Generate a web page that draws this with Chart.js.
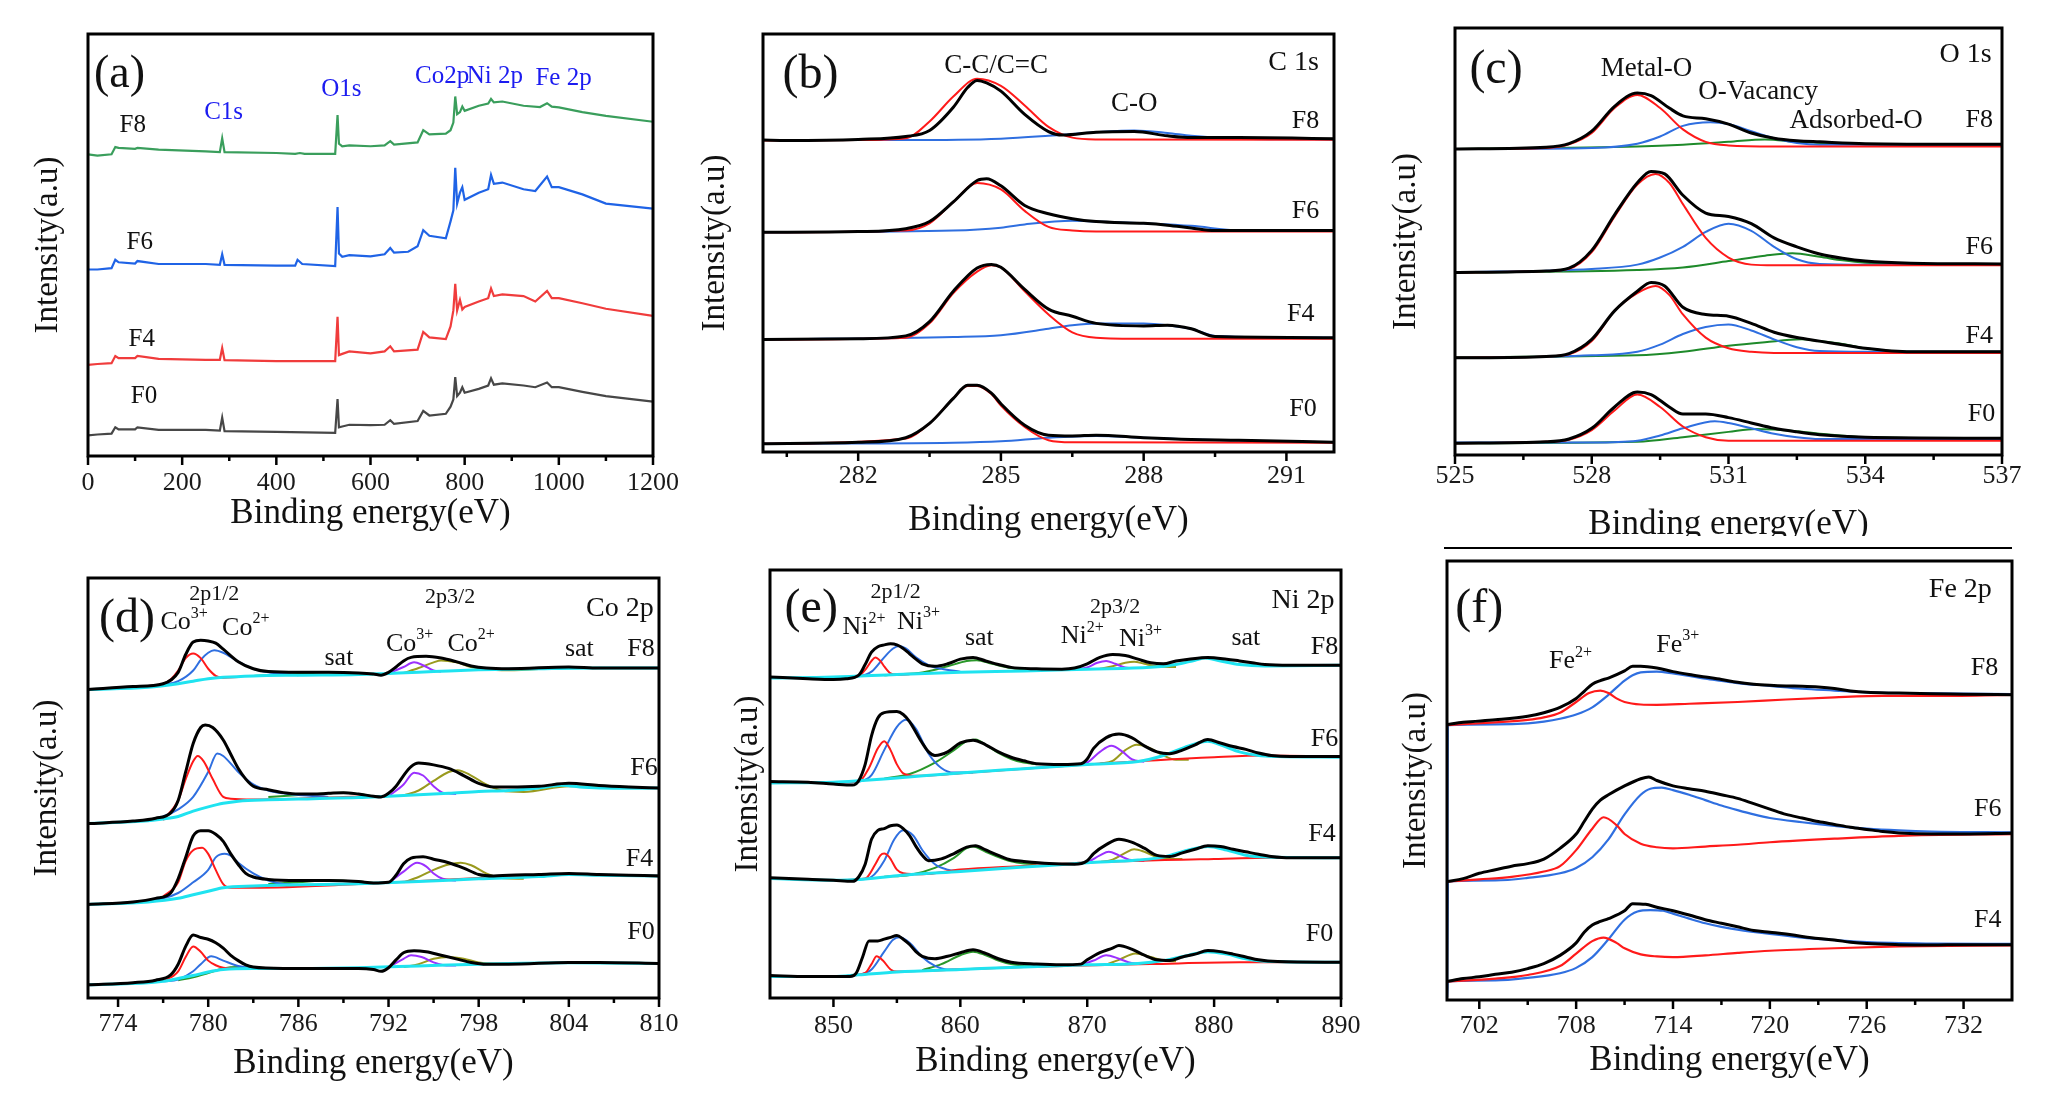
<!DOCTYPE html>
<html>
<head>
<meta charset="utf-8">
<script src="https://cdn.jsdelivr.net/npm/chart.js@4.4.1/dist/chart.umd.min.js"></script>
<style>
  body { margin: 0; background: #fff; width: 2050px; height: 1110px; position: relative; overflow: hidden; }
  canvas { position: absolute; }
</style>
</head>
<body>
<script>
// ---- (a) survey, intensity in % of frame height ----
const aF8 = [[0,71.5],[20,71.2],[50,71.5],[58,73.2],[65,73.0],[100,72.8],[105,73.0],[150,72.6],[250,72.2],[280,72.0],[285,75.3],[290,72.0],[400,71.8],[440,71.6],[450,71.8],[460,71.6],[525,71.6],[530,80.8],[533,74.0],[540,73.4],[555,73.6],[600,73.4],[630,73.6],[642,74.6],[650,73.8],[700,74.3],[712,77.2],[725,76.2],[760,76.4],[770,77.2],[776,79],[780,85.2],[784,81],[790,81.5],[795,82.8],[800,81.8],[830,83.0],[850,83.5],[856,84.6],[862,83.8],[880,84.0],[925,83.0],[960,82.7],[975,83.6],[985,82.8],[1000,82.6],[1050,81.5],[1100,80.6],[1200,79.2]];
const aF6 = [[0,44.2],[20,44.2],[50,44.5],[58,46.5],[65,45.9],[100,45.6],[105,46.2],[150,45.5],[250,45.5],[280,45.3],[285,47.8],[290,45.3],[400,45.1],[440,45.1],[445,46.5],[455,45.5],[525,45.0],[530,59.0],[533,48.0],[540,47.2],[555,47.6],[600,47.3],[630,47.8],[642,49.3],[650,48.2],[680,48.4],[700,49.7],[712,53.5],[725,52.2],[760,51.6],[770,55.6],[776,58.2],[780,68.3],[784,59.8],[790,62.4],[795,63.7],[800,60.7],[830,62.4],[850,63.2],[856,66.6],[862,64.5],[880,64.8],[925,63.2],[950,62.8],[975,66.2],[985,63.7],[1000,63.7],[1050,62.0],[1100,59.8],[1200,58.6]];
const aF4 = [[0,21.6],[20,21.8],[50,22.0],[58,23.7],[65,23.2],[100,23.2],[105,23.7],[150,23.0],[250,22.8],[280,22.8],[285,25.6],[290,22.7],[400,22.5],[525,22.5],[530,33.0],[533,23.9],[540,24.2],[555,24.8],[600,24.3],[630,24.8],[642,26.0],[650,24.8],[700,25.2],[712,29.4],[725,28.1],[760,27.7],[770,30.7],[776,34.5],[780,40.8],[784,34.5],[790,37.0],[795,34.7],[800,35.3],[830,36.6],[850,37.4],[856,39.7],[862,37.9],[880,38.3],[925,37.9],[950,36.6],[975,39.1],[985,37.4],[1000,37.4],[1050,36.2],[1100,34.9],[1200,33.2]];
const aF0 = [[0,4.9],[20,5.1],[50,5.3],[58,6.8],[65,6.3],[100,6.3],[105,6.8],[150,6.2],[250,6.2],[280,6.0],[285,9.1],[290,5.9],[400,5.7],[525,5.5],[530,13.5],[533,6.8],[540,7.0],[555,7.4],[600,7.3],[630,7.4],[642,8.5],[650,7.6],[700,8.3],[712,10.7],[725,9.6],[760,10.0],[770,11.7],[776,13.4],[780,18.7],[784,14.2],[790,15.0],[795,16.3],[800,15.0],[830,15.9],[850,16.7],[856,18.4],[862,16.9],[880,17.2],[925,16.7],[950,16.3],[975,17.4],[985,16.3],[1000,16.3],[1050,15.2],[1100,14.2],[1200,12.9]];

// ---- (b) C 1s ----
const bF8k = [[280,873],[280.5,872],[282,875],[283,883],[283.5,900],[284,965],[284.3,1020],[284.5,1040],[284.7,1033],[285,1010],[285.5,945],[286,897],[286.3,887],[287,895],[287.8,897],[288.5,885],[289,880],[290,880],[292,877]];
const bF8r = [[280,872],[282,873],[283,878],[283.5,925],[284,995],[284.5,1045],[285,1025],[285.5,970],[286,910],[286.5,880],[287,875],[292,874]];
const bF8b = [[280,873],[283,873],[285,877],[286,885],[287,895],[287.8,900],[288.5,893],[289,885],[290,877],[292,875]];
const bF6k = [[280,615],[282,617],[283,625],[283.5,645],[284,700],[284.5,760],[284.7,765],[285,745],[285.5,690],[286,667],[286.5,653],[287,645],[288,640],[288.5,635],[289,627],[289.5,620],[292,620]];
const bF6r = [[280,615],[283,620],[283.5,640],[284,700],[284.5,753],[285,735],[285.5,675],[286,630],[286.5,620],[287,617],[292,617]];
const bF6b = [[280,615],[284,620],[285,628],[285.5,637],[286.5,647],[287,645],[288,640],[289,633],[290,620],[292,619]];
const bF4k = [[280,315],[282,317],[283,325],[283.5,365],[284,450],[284.5,515],[284.8,525],[285,517],[285.5,455],[286,400],[286.5,380],[287,360],[288,353],[288.5,355],[289,345],[289.5,323],[292,320]];
const bF4r = [[280,315],[283,320],[283.5,360],[284,445],[284.5,505],[284.8,523],[285,517],[285.5,450],[286,385],[286.5,335],[287,320],[288,317],[292,317]];
const bF4b = [[280,315],[284,322],[285,327],[286,345],[286.5,355],[287,360],[288,360],[288.5,355],[289,345],[289.5,325],[292,320]];
const bF0k = [[280,23],[282,27],[283,40],[283.5,80],[284,150],[284.3,187],[284.5,187],[284.8,165],[285,135],[285.5,75],[286,47],[286.5,45],[287,47],[288,40],[289,35],[290,33],[292,27]];
const bF0r = [[280,23],[283,38],[283.5,80],[284,150],[284.3,185],[284.5,185],[284.8,162],[285,130],[285.5,70],[286,33],[286.5,27],[292,26]];
const bF0b = [[280,23],[284,26],[285,30],[286,40],[287,45],[288,40],[289,35],[292,27]];

// ---- (c) O 1s ----
const cF8k = [[525,860],[527,865],[527.5,875],[528,910],[528.5,980],[529,1017],[529.3,1010],[529.7,975],[530,953],[530.5,945],[531,930],[531.5,905],[532,890],[532.5,883],[533,880],[534,875],[537,873]];
const cF8r = [[525,860],[527,863],[527.5,873],[528,905],[528.5,975],[529,1012],[529.5,975],[530,915],[530.5,880],[531,870],[532,867],[537,867]];
const cF8b = [[525,860],[528,863],[529,875],[529.5,895],[530,925],[530.6,935],[531,930],[531.5,910],[532,890],[532.5,877],[533,872],[537,872]];
const cF8g = [[525,860],[529,867],[530,872],[531,880],[531.8,887],[532.5,880],[533,877],[534,873],[537,872]];
const cF6k = [[525,513],[527,517],[527.5,525],[528,575],[528.5,675],[529,765],[529.3,797],[529.6,790],[530,730],[530.5,680],[531,670],[531.5,650],[532,610],[532.5,585],[533,565],[533.5,553],[534,545],[535,539],[537,537]];
const cF6r = [[525,513],[527,517],[527.5,523],[528,570],[528.5,670],[529,760],[529.4,790],[529.7,765],[530,705],[530.5,610],[531,555],[531.5,535],[532,533],[537,533]];
const cF6b = [[525,513],[528,523],[529,535],[529.5,555],[530,585],[530.5,627],[531,650],[531.5,630],[532,585],[532.5,550],[533,537],[534,535],[537,535]];
const cF6g = [[525,513],[529,520],[530,527],[531,545],[531.8,560],[532.4,567],[533,557],[533.5,547],[534,540],[535,535],[537,535]];
const cF4k = [[525,273],[527,277],[527.5,285],[528,325],[528.5,405],[529,460],[529.3,485],[529.6,475],[530,415],[530.5,395],[531,390],[531.5,370],[532,345],[532.5,330],[533,320],[533.5,310],[534,300],[535,290],[537,290]];
const cF4r = [[525,273],[527,277],[527.5,283],[528,320],[528.5,405],[529,455],[529.4,475],[529.7,450],[530,395],[530.5,330],[531,300],[531.5,290],[532,287],[537,287]];
const cF4b = [[525,273],[528,280],[529,290],[529.5,310],[530,340],[530.5,360],[531,367],[531.5,350],[532,325],[532.5,303],[533,292],[534,290],[537,290]];
const cF4g = [[525,275],[529,280],[530,290],[531,307],[531.8,317],[532.6,325],[533,320],[533.5,312],[534,300],[535,290],[537,290]];
const cF0k = [[525,33],[527,37],[527.5,45],[528,75],[528.5,135],[529,177],[529.3,170],[529.7,135],[530,115],[530.5,115],[531,105],[531.5,90],[532,75],[532.5,65],[533,57],[534,50],[537,47]];
const cF0r = [[525,33],[527,37],[527.5,43],[528,70],[528.5,125],[529,170],[529.5,135],[530,80],[530.5,50],[531,40],[537,40]];
const cF0b = [[525,35],[528,35],[529,40],[529.5,55],[530,75],[530.7,95],[531,90],[531.5,75],[532,60],[532.5,50],[533,45],[537,45]];
const cF0g = [[525,33],[529,37],[530,50],[531,65],[531.6,73],[532.5,67],[533,60],[534,50],[537,47]];

// ---- (d) Co 2p ----
const dF8k = [[772,867],[775,875],[777,883],[778,915],[778.5,965],[779,1000],[779.5,1005],[780,1003],[780.5,997],[781,980],[782,945],[783,925],[784,917],[786,915],[788,915],[790,913],[791,910],[791.5,907],[792,915],[792.5,930],[793,947],[793.5,957],[794.5,960],[795.5,955],[796.5,945],[797.5,933],[798.5,927],[800,925],[804,930],[806,927],[810,927]];
const dF8r = [[772,867],[777,883],[777.5,895],[778,920],[778.5,955],[779,968],[779.5,955],[780,925],[780.5,905],[781,900],[782,902]];
const dF8b = [[776,875],[777,880],[778,890],[779,920],[779.5,950],[780,970],[780.4,977],[781,970],[782,945],[783,925],[784,915],[785,910],[786,907]];
const dF8g = [[783,905],[786,910],[788,915],[790,912],[791,909]];
const dF8c = [[772,867],[776,873],[778,883],[779,890],[780,897],[781,901],[783,905],[786,907],[790,909],[792,912],[794,915],[796,919],[798,922],[802,925],[806,927],[810,927]];
const dF8p = [[792,912],[793,930],[793.7,943],[794.3,935],[795,920],[795.5,917]];
const dF8o = [[793,913],[794,927],[795,943],[795.5,948],[796.5,943],[797.5,930],[798.5,923],[800,921],[804,928],[808,927]];
const dF6k = [[772,490],[775,497],[776.5,505],[777.5,520],[778,555],[778.5,635],[779,715],[779.5,760],[779.8,767],[780.3,760],[781,725],[781.5,685],[782,645],[782.5,615],[783,595],[784,585],[785,577],[786,573],[787,573],[788,575],[789,577],[790,573],[791,567],[791.5,565],[792,575],[792.5,595],[793,625],[793.5,650],[794,660],[795,655],[796,645],[797,625],[798,603],[799,593],[800,593],[802,595],[804,603],[806,597],[808,593],[810,590]];
const dF6r = [[777,500],[778,555],[778.5,615],[779,665],[779.3,680],[779.7,665],[780.3,615],[781,565],[781.5,560],[783,558],[786,560],[789,565],[791,567]];
const dF6b = [[776,500],[777,510],[778,530],[779,565],[780,635],[780.6,687],[781,680],[782,635],[783,600],[784,583],[785,575],[786,570],[788,565]];
const dF6g = [[784,565],[786,570],[788,575],[789,577],[790,573],[791,567]];
const dF6c = [[772,490],[776,498],[777,503],[778,510],[779,525],[780,537],[781,547],[782,553],[784,557],[787,560],[790,563],[792,567],[794,571],[796,575],[798,580],[800,583],[802,590],[803.5,598],[805,592],[807,589],[810,590]];
const dF6p = [[792,567],[793,600],[793.7,633],[794.3,625],[795,595],[795.6,577],[796.5,573]];
const dF6o = [[793,569],[794,583],[795,610],[796,635],[796.6,640],[797.5,625],[798.5,600],[799.5,583],[801,579],[804,595],[808,590]];
const dF4k = [[772,263],[775,270],[776.5,280],[777.5,295],[778,335],[778.5,395],[779,455],[779.5,470],[780,470],[780.5,460],[781,440],[781.5,405],[782,375],[782.5,350],[783,340],[784,333],[786,330],[788,330],[790,327],[791,323],[792,325],[792.5,345],[793,377],[793.5,393],[794.3,397],[795,390],[796,380],[797,365],[798,347],[799,343],[800,345],[802,347],[804,350],[806,347],[808,345],[810,343]];
const dF4r = [[777,285],[778,325],[778.5,385],[779,415],[779.6,422],[780,405],[780.5,360],[781,320],[781.5,310],[783,310],[790,320],[798,337],[802,343],[804,347],[806,345],[810,345]];
const dF4b = [[776,275],[777,280],[778,295],[779,325],[780,360],[780.5,395],[781.1,405],[781.5,400],[782,380],[783,350],[784,330],[785,320],[786,318]];
const dF4g = [[784,320],[786,325],[788,330],[790,327],[791,323]];
const dF4c = [[772,263],[776,270],[778,280],[779,290],[780,300],[781,310],[783,315],[786,318],[790,321],[794,327],[798,335],[802,341],[804,347],[806,345],[810,343]];
const dF4p = [[792,323],[793,355],[793.9,380],[794.5,370],[795,350],[795.6,335],[796.5,330]];
const dF4o = [[793,325],[794,340],[795,360],[796,375],[796.8,380],[797.5,373],[798.5,350],[799.5,337],[801,335]];
const dF0k = [[772,37],[775,43],[776.5,50],[777.5,65],[778,95],[778.5,145],[779,177],[779.5,170],[780,165],[780.5,155],[781,140],[781.5,120],[782,105],[782.5,93],[783,87],[785,83],[788,83],[790,83],[791,80],[791.5,75],[792,85],[792.5,107],[793,127],[793.7,133],[794.5,130],[795.5,120],[796.5,110],[797.5,100],[798.5,95],[800,95],[804,100],[806,100],[810,97]];
const dF0r = [[777,47],[778,75],[778.5,115],[779,145],[779.5,130],[780,105],[780.5,92],[781,85],[782,82]];
const dF0b = [[777,47],[778,52],[779,75],[779.5,95],[780.2,117],[781,105],[782,90],[783,84],[784,83]];
const dF0g = [[778,50],[779,58],[780,70],[781,83],[782,87],[783,85],[785,83],[788,83],[790,83]];
const dF0c = [[772,37],[776,43],[777,47],[778,55],[779,63],[780,73],[781,80],[783,83],[786,83],[790,85],[794,90],[798,95],[804,99],[810,97]];
const dF0p = [[792,86],[793,110],[793.5,120],[794.2,115],[795,100],[795.6,93],[796.5,91]];
const dF0o = [[793,87],[794,95],[795,110],[796,115],[797,110],[798,100],[799,96],[801,96]];

// ---- (e) Ni 2p ----
const eF8k = [[845,900],[848,895],[850,893],[851,895],[852,905],[852.5,935],[853,970],[853.5,985],[854,990],[854.5,993],[855,990],[855.5,980],[856,965],[856.5,950],[857,937],[858,930],[859,937],[860,950],[861,955],[862,945],[863,935],[864,927],[866,923],[868,922],[869,925],[870,937],[871,955],[872,963],[873,960],[874,950],[875,940],[876,937],[877,945],[878,950],[879.5,955],[881,950],[882,945],[883,940],[884,935],[886,933],[890,933]];
const eF8r = [[851,900],[852,903],[852.5,920],[853,945],[853.3,955],[853.7,945],[854,930],[854.5,910],[855,906],[856,908]];
const eF8b = [[851,900],[852,902],[853,915],[854,955],[854.7,980],[855.2,987],[855.7,980],[856.5,955],[857.5,933],[858.5,923],[860,915]];
const eF8g = [[854,905],[855,907],[857,913],[859,930],[860.5,945],[861.3,947],[862.5,937],[864,925],[866,919]];
const eF8p = [[869,921],[870,927],[870.8,940],[871.5,945],[872.2,937],[873,927],[874,925]];
const eF8o = [[871,923],[872,930],[873,940],[873.7,943],[874.5,937],[875.5,930],[877,928]];
const eF8c = [[845,897],[850,900],[855,907],[860,913],[865,917],[870,922],[875,927],[877,935],[878.5,947],[879.3,953],[880.5,945],[882,935],[884,931],[890,933]];
const eF6k = [[845,607],[848,605],[850,600],[851.5,597],[852,610],[852.5,655],[853,735],[853.5,785],[854,800],[855,803],[855.5,795],[856,775],[856.5,745],[857,715],[857.5,690],[858,680],[859,690],[860,715],[861,723],[862,710],[863,690],[864,675],[865,665],[866,657],[868,655],[869.5,657],[870,670],[870.5,700],[871.5,730],[872.5,740],[873.5,730],[874.5,707],[875.5,690],[876.5,685],[877.5,695],[878.5,710],[879.5,725],[880.5,715],[881.5,705],[882.5,697],[883.5,687],[884.5,680],[886,677],[890,677]];
const eF6r = [[845,603],[850,605],[852,607],[852.8,645],[853.5,700],[854,720],[854.5,695],[855,655],[855.5,630],[856.5,623],[860,630],[870,655],[880,675],[884,680],[890,677]];
const eF6b = [[851,605],[852,607],[853,625],[854,695],[855,760],[855.7,780],[856.5,755],[857,720],[857.5,685],[858.5,645],[859.5,632],[861,632]];
const eF6g = [[854,615],[856,628],[858,660],[859.5,695],[860.5,720],[861.2,725],[862,710],[863,687],[864,670],[865,660],[866,655]];
const eF6p = [[869,653],[870,660],[871,690],[871.9,707],[872.8,690],[873.5,670],[874.5,662]];
const eF6o = [[871,657],[872,665],[873,695],[873.9,710],[875,700],[876,680],[877,668],[878,668]];
const eF6c = [[845,603],[850,605],[852,609],[855,617],[860,631],[865,643],[870,655],[874,663],[876,680],[878,707],[879.5,720],[880.5,710],[882,690],[883.5,680],[885,677],[890,675]];
const eF4k = [[845,337],[848,333],[850,330],[851.5,327],[852,340],[852.5,375],[853,445],[853.5,470],[854,475],[854.5,483],[855,485],[855.5,475],[856,455],[856.5,425],[857,400],[857.5,385],[858.5,390],[859.5,405],[860.5,423],[861.2,427],[862,415],[863,400],[864,387],[865,383],[867,377],[869,375],[870,385],[870.5,405],[871.5,430],[872.5,445],[873.5,437],[874.5,420],[875.5,400],[876.5,397],[877.5,407],[878.5,417],[879.5,427],[880.5,425],[881.5,417],[882.5,410],[883.5,403],[884.5,397],[886,393],[890,393]];
const eF4r = [[845,335],[850,330],[852.5,335],[853.3,375],[853.7,400],[854,405],[854.4,395],[855,360],[855.5,350],[857,347],[860,360],[865,370],[870,380],[880,390],[885,393],[890,393]];
const eF4b = [[851,330],[852,332],[853,340],[854,385],[854.8,445],[855.5,470],[856.3,455],[857,415],[858,375],[859,360],[860,356]];
const eF4g = [[854,340],[856,345],[858,365],[859.5,393],[860.5,420],[861,425],[862,410],[863,395],[864,383],[865,377],[866,375]];
const eF4p = [[869,377],[870,381],[871,400],[871.7,410],[872.5,400],[873.3,388],[874.5,385]];
const eF4o = [[871,381],[872,388],[873,407],[873.7,417],[874.5,410],[875.5,395],[876.5,390],[877.5,390]];
const eF4c = [[845,335],[850,330],[852,332],[855,343],[860,355],[865,367],[870,379],[874,387],[876,395],[878,415],[879.5,425],[881,415],[882.5,400],[884,395],[890,393]];
const eF0k = [[845,63],[848,60],[850,60],[851.3,60],[851.8,70],[852.3,115],[852.8,160],[853.5,160],[854,165],[854.5,170],[855,175],[855.5,165],[856,150],[856.5,130],[857,117],[858,110],[859,117],[860,127],[861,135],[862,125],[863,110],[864,100],[866,95],[868,93],[869.5,95],[870,107],[871,127],[872,140],[872.5,147],[873.5,137],[874.5,120],[875.5,107],[876.5,105],[877.5,115],[878.5,123],[879.5,133],[880.5,130],[881.5,123],[882.5,115],[883.5,107],[885,102],[890,100]];
const eF0r = [[851,62],[852.5,70],[853,95],[853.4,117],[853.9,105],[854.5,80],[855,74],[858,77],[865,87],[875,95],[882,100],[890,100]];
const eF0b = [[851,62],[852,65],[853,80],[854,130],[854.7,163],[855.2,170],[856,155],[857,115],[858,90],[859,80],[860,80]];
const eF0g = [[857,78],[858.5,95],[860,120],[861,130],[862,120],[863,105],[864,95],[866,88]];
const eF0p = [[869.5,92],[870.5,105],[871.5,120],[872.5,110],[873.5,98],[874.5,96]];
const eF0o = [[871.5,94],[872.5,107],[873.8,125],[875,115],[876,105],[877,103]];
const eF0c = [[845,60],[850,60],[852,65],[855,73],[860,80],[865,87],[870,93],[874,97],[876,105],[878,120],[879.5,130],[881,123],[882.5,110],[884,103],[890,100]];

// ---- (f) Fe 2p ----
const fF8k = [[700,772],[701,778],[703,785],[705,795],[706,805],[707,820],[708,845],[708.5,865],[709,885],[709.5,895],[710,902],[711,922],[711.5,935],[712,935],[713,930],[714,920],[715,912],[716,905],[717,898],[718,890],[719,885],[720,882],[721,880],[722,879],[723,877],[724,873],[725,866],[726,862],[728,860],[730,858],[732,857],[735,855]];
const fF8r = [[700,770],[703,778],[705,785],[706,792],[707,805],[708,835],[708.8,860],[709.5,867],[710,860],[710.5,845],[711,835],[712,828],[713,827],[715,830],[718,835],[721,842],[724,848],[727,852],[730,852],[735,855]];
const fF8b = [[700,8],[700.05,770],[703,772],[705,775],[706,780],[707,788],[708,800],[709,820],[710,855],[711,895],[711.5,910],[712,918],[713,920],[714,915],[715,908],[716,900],[717,894],[718,888],[720,880],[722,872],[724,867],[726,862],[730,859],[735,857]];
const fF6k = [[700,332],[701,340],[702,355],[703,365],[704,375],[705,382],[706,395],[707,425],[708,465],[708.5,500],[709,535],[709.5,560],[710,575],[711,600],[712,620],[712.5,625],[713,615],[714,600],[715,592],[716,585],[717,575],[718,565],[719,550],[720,535],[721,520],[722,510],[723,500],[724,492],[725,484],[726,478],[727,472],[728,468],[730,465],[732,465],[735,467]];
const fF6r = [[700,332],[702,338],[704,345],[706,360],[707,375],[708,420],[709,480],[709.7,512],[710.5,490],[711,465],[712,438],[713,428],[714,425],[716,430],[718,435],[720,442],[724,452],[728,460],[735,465]];
const fF6b = [[700,8],[700.05,332],[703,335],[705,342],[707,355],[708,370],[709,400],[710,450],[711,520],[712,575],[712.6,592],[713.3,595],[714,588],[715,575],[716,560],[717,545],[718,532],[719,520],[720,510],[722,498],[724,488],[726,480],[728,475],[730,472],[735,470]];
const fF4k = [[700,52],[701,60],[702,65],[703,72],[704,78],[705,88],[706,102],[707,125],[708,160],[708.5,190],[709,210],[709.5,220],[710,228],[711,250],[711.5,270],[712.3,268],[713,260],[714,250],[715,238],[716,225],[717,215],[718,205],[719,195],[720,190],[721,185],[722,178],[723,172],[724,168],[725,162],[726,158],[728,155],[730,154],[732,155],[735,155]];
const fF4r = [[700,52],[703,60],[705,70],[707,95],[708,130],[709,165],[709.7,175],[710.5,160],[711,145],[712,128],[713,122],[714,120],[716,125],[718,132],[720,138],[724,145],[728,150],[735,153]];
const fF4b = [[700,8],[700.05,52],[703,55],[705,62],[707,75],[708,90],[709,120],[710,170],[711,225],[711.8,248],[712.6,252],[713.4,250],[714,242],[715,228],[716,215],[717,205],[718,197],[720,185],[722,175],[724,168],[726,162],[730,158],[735,157]];

// ---- tick values ----
const aMajor = [0, 200, 400, 600, 800, 1000, 1200];
const aMinor = [100, 300, 500, 700, 900, 1100];
const bMajor = [282, 285, 288, 291];
const bMinor = [280.5, 283.5, 286.5, 289.5];
const cMajor = [525, 528, 531, 534, 537];
const cMinor = [526.5, 529.5, 532.5, 535.5];
const dMajor = [774, 780, 786, 792, 798, 804, 810];
const dMinor = [777, 783, 789, 795, 801, 807];
const eMajor = [850, 860, 870, 880, 890];
const eMinor = [855, 865, 875, 885];
const fMajor = [702, 708, 714, 720, 726, 732];
const fMinor = [705, 711, 717, 723, 729];

// ---- annotations (data coordinates) ----
const BL = '#1c1cf0';
const aNotes = [
  {x: 67, y: 90.3, t: '(a)', s: 46}, {x: 95, y: 78.4, t: 'F8', s: 25}, {x: 110, y: 50.5, t: 'F6', s: 25},
  {x: 114, y: 27.7, t: 'F4', s: 25}, {x: 119, y: 14.2, t: 'F0', s: 25},
  {x: 288, y: 81.4, t: 'C1s', s: 25, c: BL}, {x: 538, y: 86.9, t: 'O1s', s: 25, c: BL},
  {x: 752, y: 89.9, t: 'Co2p', s: 25, c: BL}, {x: 864, y: 89.9, t: 'Ni 2p', s: 25, c: BL}, {x: 1010, y: 89.4, t: 'Fe 2p', s: 25, c: BL},
];
const bNotes = [
  {x: 281, y: 1055, t: '(b)', s: 48}, {x: 284.9, y: 1080, t: 'C-C/C=C', s: 27}, {x: 287.8, y: 975, t: 'C-O', s: 27},
  {x: 291.15, y: 1090, t: 'C 1s', s: 28}, {x: 291.4, y: 925, t: 'F8'}, {x: 291.4, y: 675, t: 'F6'},
  {x: 291.3, y: 385, t: 'F4'}, {x: 291.35, y: 120, t: 'F0'},
];
const cNotes = [
  {x: 525.9, y: 1080, t: '(c)', s: 48}, {x: 529.2, y: 1085, t: 'Metal-O', s: 27}, {x: 531.65, y: 1020, t: 'O-Vacancy', s: 27},
  {x: 533.8, y: 940, t: 'Adsorbed-O', s: 27}, {x: 536.2, y: 1125, t: 'O 1s', s: 28}, {x: 536.5, y: 940, t: 'F8'},
  {x: 536.5, y: 585, t: 'F6'}, {x: 536.5, y: 335, t: 'F4'}, {x: 536.55, y: 115, t: 'F0'},
];
const dNotes = [
  {x: 774.6, y: 1065, t: '(d)', s: 48}, {x: 780.4, y: 1135, t: '2p1/2', s: 22}, {x: 778.4, y: 1055, t: 'Co', sup: '3+'},
  {x: 782.5, y: 1040, t: 'Co', sup: '2+'}, {x: 788.7, y: 955, t: 'sat'}, {x: 796.1, y: 1125, t: '2p3/2', s: 22},
  {x: 793.4, y: 995, t: 'Co', sup: '3+'}, {x: 797.5, y: 995, t: 'Co', sup: '2+'}, {x: 804.7, y: 980, t: 'sat'},
  {x: 807.4, y: 1095, t: 'Co 2p', s: 28}, {x: 808.8, y: 980, t: 'F8'}, {x: 809, y: 645, t: 'F6'},
  {x: 808.7, y: 390, t: 'F4'}, {x: 808.8, y: 185, t: 'F0'},
];
const eNotes = [
  {x: 848.25, y: 1090, t: '(e)', s: 48}, {x: 854.9, y: 1137, t: '2p1/2', s: 22}, {x: 852.4, y: 1040, t: 'Ni', sup: '2+'},
  {x: 856.7, y: 1055, t: 'Ni', sup: '3+'}, {x: 861.5, y: 1010, t: 'sat'}, {x: 872.2, y: 1097, t: '2p3/2', s: 22},
  {x: 869.6, y: 1015, t: 'Ni', sup: '2+'}, {x: 874.2, y: 1005, t: 'Ni', sup: '3+'}, {x: 882.5, y: 1010, t: 'sat'},
  {x: 887, y: 1115, t: 'Ni 2p', s: 28}, {x: 888.7, y: 985, t: 'F8'}, {x: 888.7, y: 725, t: 'F6'},
  {x: 888.5, y: 460, t: 'F4'}, {x: 888.3, y: 180, t: 'F0'},
];
const fNotes = [
  {x: 702.0, y: 1095, t: '(f)', s: 48}, {x: 731.8, y: 1150, t: 'Fe 2p', s: 28}, {x: 707.65, y: 950, t: 'Fe', sup: '2+'},
  {x: 714.3, y: 995, t: 'Fe', sup: '3+'}, {x: 733.3, y: 930, t: 'F8'}, {x: 733.5, y: 535, t: 'F6'}, {x: 733.5, y: 225, t: 'F4'},
];

Chart.defaults.font.family = '"Liberation Serif", "Times New Roman", serif';
Chart.defaults.color = '#1a1a1a';

const K = '#000000', RD = '#ff1a1a', BU = '#2f6fe0', GC = '#1e8a2a', GD = '#2a982a', PU = '#9b30ff', OL = '#9a9a1e', CY = '#1fe3f0';
const FONT = '"Liberation Serif", "Times New Roman", serif';

function framePlugin(major, minor) {
    return {
        id: 'frame',
        afterDatasetsDraw(chart) {
            const { ctx, chartArea: a, scales: { x } } = chart;
            ctx.save();
            ctx.strokeStyle = '#000';
            ctx.lineWidth = 3;
            ctx.strokeRect(a.left, a.top, a.right - a.left, a.bottom - a.top);
            ctx.lineWidth = 2.5;
            const tick = (v, len) => {
                const px = x.getPixelForValue(v);
                ctx.beginPath();
                ctx.moveTo(px, a.bottom);
                ctx.lineTo(px, a.bottom + len);
                ctx.stroke();
            };
            major.forEach(v => tick(v, 9));
            minor.forEach(v => tick(v, 5));
            ctx.restore();
        },
    };
}

function notesPlugin(notes) {
    return {
        id: 'notes',
        afterDatasetsDraw(chart) {
            const { ctx, scales: { x, y } } = chart;
            ctx.save();
            ctx.textBaseline = 'middle';
            ctx.textAlign = 'left';
            notes.forEach(n => {
                const s = n.s || 26;
                const ss = Math.round(s * 0.62);
                const px = x.getPixelForValue(n.x);
                const py = y.getPixelForValue(n.y);
                ctx.font = `${s}px ${FONT}`;
                const w1 = ctx.measureText(n.t).width;
                let w2 = 0;
                if (n.sup) {
                    ctx.font = `${ss}px ${FONT}`;
                    w2 = ctx.measureText(n.sup).width;
                }
                const x0 = px - (w1 + w2) / 2;
                ctx.fillStyle = n.c || '#111';
                ctx.font = `${s}px ${FONT}`;
                ctx.fillText(n.t, x0, py);
                if (n.sup) {
                    ctx.font = `${ss}px ${FONT}`;
                    ctx.fillText(n.sup, x0 + w1, py - s * 0.33);
                }
            });
            ctx.restore();
        },
    };
}

// white band + rule above panel (f), cuts the foot of the (c) axis title like the original
function bandPlugin(band, cl, ct) {
    return {
        id: 'band',
        beforeDraw(chart) {
            const { ctx } = chart;
            ctx.save();
            ctx.fillStyle = '#fff';
            ctx.fillRect(band.x1 - cl, band.top - ct, band.x2 - band.x1, band.line - band.top);
            ctx.strokeStyle = '#000';
            ctx.lineWidth = 2;
            ctx.beginPath();
            ctx.moveTo(band.x1 - cl, band.line - ct);
            ctx.lineTo(band.x2 - cl, band.line - ct);
            ctx.stroke();
            ctx.restore();
        },
    };
}

function panel(p) {
    const [bl, bt, br, bb] = p.box;
    const [cl, ct, cr, cb] = p.frame;
    const L = bl - cl, T = bt - ct, R = cr - br, B = cb - bb;
    const cv = document.createElement('canvas');
    cv.width = cr - cl;
    cv.height = cb - ct;
    cv.style.left = cl + 'px';
    cv.style.top = ct + 'px';
    document.body.appendChild(cv);

    const plugins = [framePlugin(p.major, p.minor), notesPlugin(p.notes)];
    if (p.band) plugins.unshift(bandPlugin(p.band, cl, ct));

    new Chart(cv, {
        type: 'line',
        data: {
            datasets: p.series.map(([d, c, w]) => ({
                data: d,
                borderColor: c,
                borderWidth: w,
                pointRadius: 0,
                fill: false,
                tension: p.straight ? 0 : 0.4,
                cubicInterpolationMode: p.straight ? 'default' : 'monotone',
            })),
        },
        options: {
            responsive: false,
            animation: false,
            events: [],
            layout: { padding: { left: 0, top: T, right: R, bottom: 0 } },
            plugins: { legend: { display: false }, tooltip: { enabled: false } },
            scales: {
                x: {
                    type: 'linear',
                    min: p.xr[0],
                    max: p.xr[1],
                    afterBuildTicks: s => { s.ticks = p.major.map(v => ({ value: v })); },
                    afterFit: s => { s.height = B; },
                    grid: { display: false, drawTicks: false },
                    border: { display: false },
                    ticks: {
                        autoSkip: false,
                        maxRotation: 0,
                        padding: p.tickPad,
                        font: { size: 26 },
                        color: '#1a1a1a',
                        callback: v => String(v),
                    },
                    title: { display: true, text: 'Binding energy(eV)', font: { size: 35 }, color: '#111', padding: 0 },
                },
                y: {
                    min: 0,
                    max: p.yMax,
                    afterFit: s => { s.width = L; },
                    grid: { display: false, drawTicks: false },
                    border: { display: false },
                    ticks: { display: false },
                    title: { display: true, text: 'Intensity(a.u)', font: { size: 33 }, color: '#111', padding: 0 },
                },
            },
        },
        plugins,
    });
}

panel({
    box: [88, 34, 653, 456], frame: [29, 24, 693, 535], xr: [0, 1200], yMax: 100, tickPad: 12,
    major: aMajor, minor: aMinor, notes: aNotes, straight: true,
    series: [[aF8, '#3a9e5c', 2.2], [aF6, '#1f63e6', 2.2], [aF4, '#f03c3c', 2.2], [aF0, '#474747', 2.2]],
});
panel({
    box: [763, 34, 1334, 452], frame: [696, 24, 1374, 542], xr: [280, 292], yMax: 1170, tickPad: 9,
    major: bMajor, minor: bMinor, notes: bNotes,
    series: [[bF8k, K, 3], [bF6k, K, 3], [bF4k, K, 3], [bF0k, K, 3],
             [bF8r, RD, 2], [bF6r, RD, 2], [bF4r, RD, 2], [bF0r, RD, 2],
             [bF8b, BU, 2], [bF6b, BU, 2], [bF4b, BU, 2], [bF0b, BU, 2]],
});
panel({
    box: [1455, 28, 2002, 455], frame: [1387, 18, 2042, 546], xr: [525, 537], yMax: 1200, tickPad: 6,
    major: cMajor, minor: cMinor, notes: cNotes,
    series: [[cF8k, K, 3], [cF6k, K, 3], [cF4k, K, 3], [cF0k, K, 3],
             [cF8r, RD, 2], [cF6r, RD, 2], [cF4r, RD, 2], [cF0r, RD, 2],
             [cF8b, BU, 2], [cF6b, BU, 2], [cF4b, BU, 2], [cF0b, BU, 2],
             [cF8g, GC, 2], [cF6g, GC, 2], [cF4g, GC, 2], [cF0g, GC, 2]],
});
panel({
    box: [88, 578, 659, 998], frame: [28, 568, 699, 1085], xr: [772, 810], yMax: 1180, tickPad: 11,
    major: dMajor, minor: dMinor, notes: dNotes,
    series: [[dF8k, K, 3], [dF6k, K, 3], [dF4k, K, 3], [dF0k, K, 3],
             [dF8c, CY, 3], [dF6c, CY, 3], [dF4c, CY, 3], [dF0c, CY, 3],
             [dF8r, RD, 2], [dF6r, RD, 2], [dF4r, RD, 2], [dF0r, RD, 2],
             [dF8b, BU, 2], [dF6b, BU, 2], [dF4b, BU, 2], [dF0b, BU, 2],
             [dF8p, PU, 2], [dF6p, PU, 2], [dF4p, PU, 2], [dF0p, PU, 2],
             [dF8o, OL, 2], [dF6o, OL, 2], [dF4o, OL, 2], [dF0o, OL, 2],
             [dF8g, GD, 2], [dF6g, GD, 2], [dF4g, GD, 2], [dF0g, GD, 2]],
});
panel({
    box: [770, 570, 1341, 998], frame: [729, 560, 1381, 1083], xr: [845, 890], yMax: 1200, tickPad: 13,
    major: eMajor, minor: eMinor, notes: eNotes,
    series: [[eF8k, K, 3], [eF6k, K, 3], [eF4k, K, 3], [eF0k, K, 3],
             [eF8c, CY, 3], [eF6c, CY, 3], [eF4c, CY, 3], [eF0c, CY, 3],
             [eF8r, RD, 2], [eF6r, RD, 2], [eF4r, RD, 2], [eF0r, RD, 2],
             [eF8b, BU, 2], [eF6b, BU, 2], [eF4b, BU, 2], [eF0b, BU, 2],
             [eF8p, PU, 2], [eF6p, PU, 2], [eF4p, PU, 2], [eF0p, PU, 2],
             [eF8o, OL, 2], [eF6o, OL, 2], [eF4o, OL, 2], [eF0o, OL, 2],
             [eF8g, GD, 2], [eF6g, GD, 2], [eF4g, GD, 2], [eF0g, GD, 2]],
});
panel({
    box: [1447, 561, 2012, 1000], frame: [1397, 530, 2050, 1082], xr: [700, 735], yMax: 1230, tickPad: 11,
    major: fMajor, minor: fMinor, notes: fNotes,
    band: { x1: 1444, x2: 2012, top: 536, line: 548 },
    series: [[fF8k, K, 3], [fF6k, K, 3], [fF4k, K, 3],
             [fF8r, RD, 2.2], [fF6r, RD, 2.2], [fF4r, RD, 2.2],
             [fF8b, BU, 2.2], [fF6b, BU, 2.2], [fF4b, BU, 2.2]],
});
</script>
</body>
</html>
